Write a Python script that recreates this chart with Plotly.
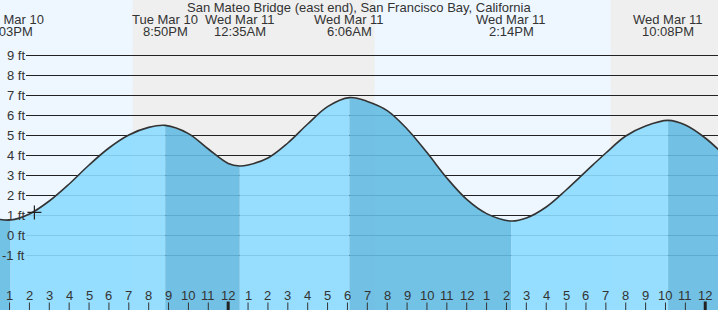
import plotly.graph_objects as go

TITLE = "San Mateo Bridge (east end), San Francisco Bay, California"

# Curve readings (hours since Tue Mar 10 00:00, height in ft)
read_hours = [12, 14, 15, 16, 17, 18, 19, 20, 22, 23, 24, 25, 26, 27, 28, 29,
              31, 32, 33, 34, 35, 36, 37, 39, 40, 41, 42, 43, 44, 45, 47, 48, 49]
read_ft = [0.87, 1.05, 1.7, 2.55, 3.5, 4.35, 5.0, 5.38, 5.07, 4.3, 3.58, 3.5, 3.85, 4.6, 5.55, 6.42,
           6.68, 6.22, 5.3, 4.12, 2.85, 1.78, 1.07, 0.85, 1.4, 2.25, 3.18, 4.1, 4.95, 5.45, 5.5, 4.85, 3.95]

# Tide events (high / low)
event_hours = [13.05, 20.8333, 24.5833, 30.1, 38.2333, 46.1333]
event_ft = [0.75, 5.48, 3.45, 6.87, 0.7, 5.73]
event_day = ["Tue Mar 10", "Tue Mar 10", "Wed Mar 11", "Wed Mar 11", "Wed Mar 11", "Wed Mar 11"]
event_time = ["1:03PM", "8:50PM", "12:35AM", "6:06AM", "2:14PM", "10:08PM"]

# Night periods (sunset -> sunrise)
night_start = [19.19, 43.24]
night_end = [31.36, 49.0]

# Current time marker
now_hour = [14.25]
now_ft = [1.13]

grid_ft = [9, 8, 7, 6, 5, 4, 3, 2, 1, 0, -1]
tick_hours = list(range(13, 49))

W, H = 718, 310
PX_PER_HOUR = 19.877
X0 = 12.52
X1 = X0 + W / PX_PER_HOUR
Y0, Y1 = -3.75, 11.75

FONT = "Liberation Sans, Arial, sans-serif"
FS = 13
TXT = "#333333"
LIGHT = "rgba(140,218,255,0.9)"
DARK = "rgba(100,187,226,0.9)"

# merge curve points
pts = sorted(list(zip(read_hours, read_ft)) + list(zip(event_hours, event_ft)))
all_x = [p[0] for p in pts]
all_y = [p[1] for p in pts]

fig = go.Figure()

bounds = [all_x[0]] + event_hours + [all_x[-1]]
for i in range(len(bounds) - 1):
    a, b = bounds[i], bounds[i + 1]
    sx = [x for x in all_x if a <= x <= b]
    sy = [y for x, y in zip(all_x, all_y) if a <= x <= b]
    color = DARK if i % 2 == 0 else LIGHT
    fig.add_trace(go.Scatter(x=[a, b], y=[-5, -5], mode="lines", line=dict(width=0),
                             hoverinfo="skip", showlegend=False))
    fig.add_trace(go.Scatter(x=sx, y=sy, mode="lines", line=dict(width=0, shape="spline"),
                             fill="tonexty", fillcolor=color, hoverinfo="skip", showlegend=False))

fig.add_trace(go.Scatter(x=all_x, y=all_y, mode="lines",
                         line=dict(color="#333333", width=1.6, shape="spline"),
                         hoverinfo="skip", showlegend=False))
fig.add_trace(go.Scatter(x=now_hour, y=now_ft, mode="markers",
                         marker=dict(symbol="cross-thin", size=10, line=dict(color="#222222", width=1.2)),
                         hoverinfo="skip", showlegend=False))

shapes = []
for s, e in zip(night_start, night_end):
    shapes.append(dict(type="rect", xref="x", yref="paper", x0=s, x1=e, y0=0, y1=1,
                       fillcolor="#EFEFEF", line=dict(width=0), layer="below"))
for g in grid_ft:
    shapes.append(dict(type="line", xref="paper", yref="y", x0=26 / W, x1=1,
                       y0=g - 0.025, y1=g - 0.025, line=dict(color="#222222", width=1), layer="below"))
for h in tick_hours:
    midnight = (h % 24 == 0)
    shapes.append(dict(type="line", xref="x", yref="paper", x0=h, x1=h, y0=0,
                       y1=(8.5 if midnight else 7.5) / H,
                       line=dict(color="#222222" if midnight else "#333333", width=3 if midnight else 1),
                       layer="above"))

ann = []
ann.append(dict(text=TITLE, xref="paper", yref="paper", x=0.5, y=1 - 7.5 / H,
                xanchor="center", yanchor="middle", showarrow=False, borderpad=0,
                font=dict(family=FONT, size=FS, color=TXT)))
for h, d, t in zip(event_hours, event_day, event_time):
    ann.append(dict(text=d, xref="x", yref="paper", x=h, y=1 - 19.5 / H, xanchor="center",
                    yanchor="middle", showarrow=False, borderpad=0,
                    font=dict(family=FONT, size=FS, color=TXT)))
    ann.append(dict(text=t, xref="x", yref="paper", x=h, y=1 - 31.5 / H, xanchor="center",
                    yanchor="middle", showarrow=False, borderpad=0,
                    font=dict(family=FONT, size=FS, color=TXT)))
for g in grid_ft:
    ann.append(dict(text=f"{g} ft", xref="paper", yref="y", x=25.5 / W, y=g, xanchor="right",
                    yanchor="middle", showarrow=False, borderpad=0,
                    font=dict(family=FONT, size=FS, color=TXT)))
for h in tick_hours:
    lab = str((h - 1) % 12 + 1)
    ann.append(dict(text=lab, xref="x", yref="paper", x=h, y=(H - 295.5) / H, xanchor="center",
                    yanchor="middle", showarrow=False, borderpad=0,
                    font=dict(family=FONT, size=FS, color=TXT)))

fig.update_layout(
    width=W, height=H, margin=dict(l=0, r=0, t=0, b=0),
    paper_bgcolor="#EEF7FF", plot_bgcolor="#EEF7FF",
    xaxis=dict(range=[X0, X1], visible=False, fixedrange=True),
    yaxis=dict(range=[Y0, Y1], visible=False, fixedrange=True),
    shapes=shapes, annotations=ann, showlegend=False,
)

fig.write_html("out.html", config={"displayModeBar": False})
